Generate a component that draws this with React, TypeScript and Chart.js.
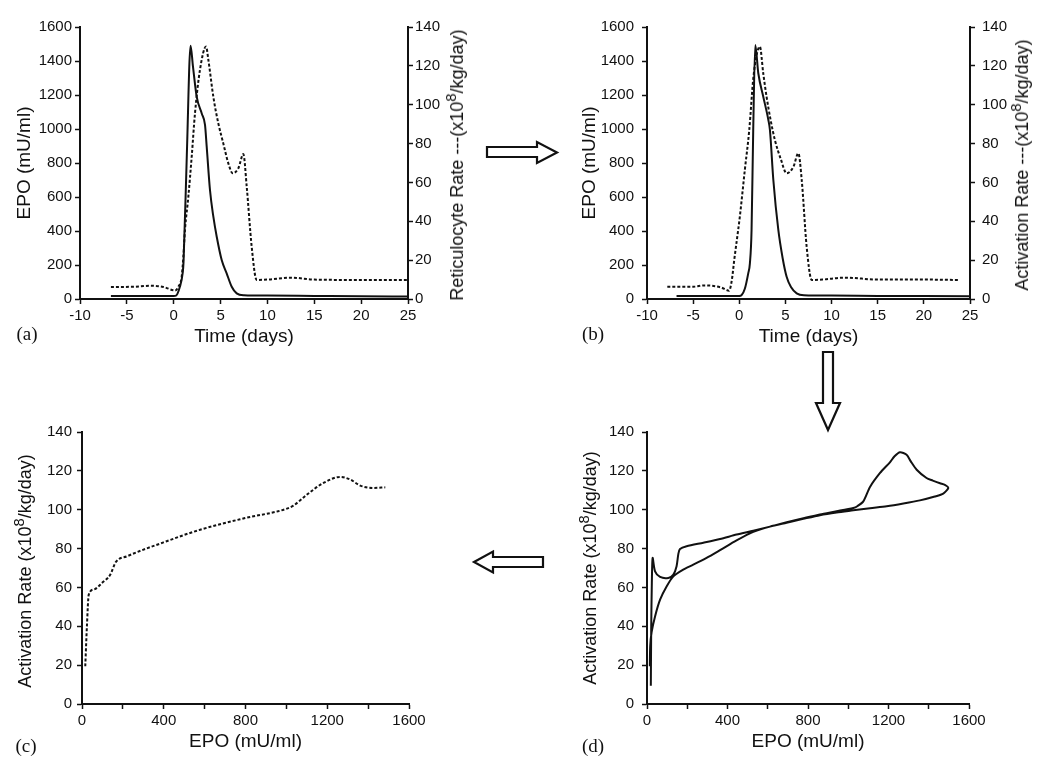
import React, { useEffect, useRef } from 'react';
import { Chart, registerables } from 'chart.js';

Chart.register(...registerables);

const FONT = '"Liberation Sans", Arial, Helvetica, sans-serif';
const SERIF = '"Liberation Serif", "Times New Roman", serif';
const INK = '#111';

// ---------------- data ----------------
// (a) EPO (mU/ml) vs time (days)
const timeEpoA = [-6.7, -3, 0, 0.25, 0.65, 0.95, 1.05, 1.4, 1.8, 2.05, 2.45, 3.0, 3.34, 3.52, 3.87, 4.23, 4.59, 5.12, 5.65, 6.19, 6.72, 7.5, 10, 15, 20, 25];
const epoA = [18, 18, 18, 20, 70, 150, 220, 850, 1490, 1370, 1190, 1090, 1024, 896, 641, 484, 366, 229, 151, 72, 33, 22, 20, 18, 16, 15];
// (a) reticulocyte rate (x10^8/kg/day) vs time
const timeRetA = [-6.7, -4.3, -2.5, -1.1, 0.15, 0.5, 0.85, 1.03, 1.2, 1.56, 1.92, 2.27, 2.8, 3.45, 3.7, 4.23, 4.76, 5.29, 5.83, 6.29, 6.9, 7.43, 7.79, 8.32, 8.85, 10, 12.5, 15, 20, 25];
const retA = [6.2, 6.3, 6.8, 6.2, 4.4, 6.3, 11.5, 21.8, 35.5, 52.6, 73.3, 95.6, 117.9, 129.9, 123, 104, 90.4, 80.1, 69.8, 64.7, 67.3, 74.6, 57.8, 26.9, 9.8, 10, 11, 10, 9.8, 9.8];

// (b) EPO vs time
const timeEpoB = [-6.8, -3, 0, 0.24, 0.6, 0.97, 1.15, 1.33, 1.51, 1.73, 2.06, 2.6, 3.15, 3.32, 3.69, 4.23, 4.7, 5.13, 5.6, 6.22, 7, 10, 15, 20, 25];
const epoB = [18, 18, 18, 22, 60, 151, 210, 406, 994, 1494, 1328, 1190, 1053, 994, 700, 406, 240, 131, 70, 33, 22, 20, 18, 17, 16];
// (b) activation rate vs time
const timeActB = [-7.8, -5, -3.8, -2, -1.1, -0.8, -0.55, 0.06, 0.6, 1.08, 1.5, 1.85, 2.23, 2.6, 2.96, 3.4, 3.86, 4.5, 5.13, 5.86, 6.4, 6.77, 7.3, 7.85, 9, 11.5, 15, 20, 23.7];
const actB = [6.3, 6.3, 7.0, 6.0, 4.3, 10, 20, 42.4, 66.4, 87, 112.7, 125, 129.9, 116, 104, 92, 81.8, 72, 64.7, 68, 75, 61, 26.9, 9.8, 10, 11, 10, 10, 9.8];

// (c) activation rate vs EPO
const epoC = [16, 24, 33, 60, 100, 138, 165, 220, 399, 578, 798, 998, 1034, 1101, 1182, 1264, 1313, 1362, 1427, 1484];
const actC = [19.4, 40, 56.3, 59, 62.5, 66.5, 73, 76, 83.2, 89.7, 95.7, 100.4, 102.1, 107.8, 113.8, 116.9, 115.5, 112.4, 111.2, 111.5];

// (d) activation rate vs EPO (trajectory in time order)
const epoD = [14, 16, 23, 40, 65, 98, 131, 180, 230, 296, 363, 445, 528, 611, 694, 777, 859, 942, 1025, 1108, 1191, 1274, 1356, 1430, 1472, 1497, 1480, 1456, 1420, 1389, 1340, 1310, 1290, 1257, 1230, 1207, 1158, 1108, 1075, 1045, 1025, 942, 859, 777, 694, 611, 528, 445, 363, 280, 197, 164, 156, 147, 131, 106, 65, 40, 28, 24, 21, 19];
const actD = [19.4, 30, 37, 45.1, 53.7, 60.6, 65.7, 69.2, 71.7, 75.2, 79.2, 84.2, 88.6, 91.3, 93.3, 95.3, 97.2, 98.6, 99.7, 100.8, 101.8, 103.2, 104.8, 106.8, 108.3, 111.2, 112.8, 113.6, 115, 116.3, 120.6, 125, 128.3, 129.6, 127.5, 124.4, 118.9, 111.7, 104.3, 101.8, 100.9, 99.2, 97.6, 95.6, 93.5, 91.3, 89.2, 87.2, 84.9, 83, 81.2, 79.8, 77.4, 70.9, 66.6, 64.9, 65.4, 68.3, 75.2, 62, 40, 9.4];

// tick values
const timeTicks = [-10, -5, 0, 5, 10, 15, 20, 25];
const epoLevelTicks = [0, 200, 400, 600, 800, 1000, 1200, 1400, 1600];
const rateTicks = [0, 20, 40, 60, 80, 100, 120, 140];
const epoConcTicks = [0, 200, 400, 600, 800, 1000, 1200, 1400, 1600];
const epoConcLabels = [0, 400, 800, 1200, 1600];

// ---------------- layout ----------------
type Geo = { cx: number; cy: number; cw: number; ch: number; l: number; r: number; t: number; b: number };
const GEO_A: Geo = { cx: 0, cy: 0, cw: 520, ch: 380, l: 80, r: 408, t: 27, b: 299 };
const GEO_B: Geo = { cx: 520, cy: 0, cw: 530, ch: 380, l: 647, r: 970, t: 27, b: 299 };
const GEO_C: Geo = { cx: 0, cy: 380, cw: 520, ch: 386, l: 82, r: 409, t: 432, b: 704 };
const GEO_D: Geo = { cx: 520, cy: 380, cw: 530, ch: 386, l: 647, r: 969, t: 432, b: 704 };

const TICK_FONT = { family: FONT, size: 15 };
const TITLE_SIZE = 19;
const TITLE_FONT = { family: FONT, size: TITLE_SIZE };
const TITLE_LH = TITLE_SIZE * 1.2;

const zip = (xs: number[], ys: number[]) => xs.map((x, i) => ({ x, y: ys[i] }));

function axis(o: {
  position: 'left' | 'right' | 'bottom';
  min: number;
  max: number;
  ticks: number[];
  labels?: number[];
  pad: number;
  size: number;
  title?: string;
  titleCenter?: number;
}) {
  const horizontal = o.position === 'bottom';
  return {
    type: 'linear',
    position: o.position,
    min: o.min,
    max: o.max,
    afterBuildTicks: (s: any) => {
      s.ticks = o.ticks.map((v) => ({ value: v }));
    },
    afterFit: (s: any) => {
      if (horizontal) s.height = o.size;
      else s.width = o.size;
    },
    ticks: {
      color: INK,
      font: TICK_FONT,
      padding: o.pad,
      autoSkip: false,
      maxRotation: 0,
      minRotation: 0,
      callback: (v: number) => (o.labels && !o.labels.includes(v) ? '' : String(v)),
    },
    grid: {
      display: true,
      drawOnChartArea: false,
      drawTicks: true,
      tickLength: 5,
      tickWidth: 1.5,
      tickColor: INK,
      color: INK,
    },
    border: { display: true, color: INK, width: 2 },
    title: o.title
      ? {
          display: true,
          text: o.title,
          color: INK,
          font: TITLE_FONT,
          padding: horizontal
            ? { top: 0, bottom: (o.titleCenter as number) - TITLE_LH / 2 }
            : { top: (o.titleCenter as number) - TITLE_LH / 2, bottom: 0 },
        }
      : { display: false },
  };
}

const solidStyle = {
  borderColor: INK,
  borderWidth: 2,
  pointRadius: 0,
  showLine: true,
  fill: false,
};
const dottedStyle = {
  borderColor: INK,
  borderWidth: 2,
  borderDash: [3, 2],
  pointRadius: 0,
  showLine: true,
  fill: false,
};

function timePanel(g: Geo, tE: number[], E: number[], tR: number[], R: number[], pads: { l: number; r: number }) {
  return {
    type: 'scatter',
    data: {
      datasets: [
        { data: zip(tE, E), yAxisID: 'y', ...solidStyle, cubicInterpolationMode: 'monotone' },
        { data: zip(tR, R), yAxisID: 'y1', ...dottedStyle, cubicInterpolationMode: 'monotone' },
      ],
    },
    options: {
      animation: false,
      responsive: false,
      maintainAspectRatio: false,
      events: [],
      layout: { padding: { top: g.t - g.cy, left: 0, right: 0, bottom: 0 } },
      plugins: { legend: { display: false }, tooltip: { enabled: false } },
      scales: {
        x: axis({ position: 'bottom', min: -10, max: 25, ticks: timeTicks, pad: 3, size: g.cy + g.ch - g.b, title: 'Time (days)', titleCenter: g.cy + g.ch - 337 }),
        y: axis({ position: 'left', min: 0, max: 1600, ticks: epoLevelTicks, pad: pads.l, size: g.l - g.cx, title: 'EPO (mU/ml)', titleCenter: (g === GEO_A ? 25 : 590) - g.cx }),
        y1: axis({ position: 'right', min: 0, max: 140, ticks: rateTicks, pad: pads.r, size: g.cx + g.cw - g.r }),
      },
    },
  };
}

function ratePanel(g: Geo, X: number[], Y: number[], dotted: boolean, padL: number) {
  const ds = dotted
    ? { data: zip(X, Y), ...dottedStyle, cubicInterpolationMode: 'monotone' }
    : { data: zip(X, Y), ...solidStyle, tension: 0.25 };
  return {
    type: 'scatter',
    data: { datasets: [ds] },
    options: {
      animation: false,
      responsive: false,
      maintainAspectRatio: false,
      events: [],
      layout: { padding: { top: g.t - g.cy, left: 0, right: g.cx + g.cw - g.r, bottom: 0 } },
      plugins: { legend: { display: false }, tooltip: { enabled: false } },
      scales: {
        x: axis({ position: 'bottom', min: 0, max: 1600, ticks: epoConcTicks, labels: epoConcLabels, pad: 3, size: g.cy + g.ch - g.b, title: 'EPO (mU/ml)', titleCenter: g.cy + g.ch - 741.7 }),
        y: axis({ position: 'left', min: 0, max: 140, ticks: rateTicks, pad: padL, size: g.l - g.cx }),
      },
    },
  };
}

function ChartBox({ geo, make }: { geo: Geo; make: () => any }) {
  const ref = useRef<HTMLCanvasElement>(null);
  useEffect(() => {
    const chart = new Chart(ref.current as HTMLCanvasElement, make());
    return () => chart.destroy();
  }, []);
  return (
    <canvas
      ref={ref}
      width={geo.cw}
      height={geo.ch}
      style={{ position: 'absolute', left: geo.cx, top: geo.cy, width: geo.cw, height: geo.ch }}
    />
  );
}

function RotTitle({ x, y, children }: { x: number; y: number; children: React.ReactNode }) {
  return (
    <div
      style={{
        position: 'absolute',
        left: x,
        top: y,
        transform: 'translate(-50%, -50%) rotate(-90deg)',
        whiteSpace: 'nowrap',
        fontFamily: FONT,
        fontSize: 18,
        lineHeight: 1,
        color: INK,
      }}
    >
      {children}
    </div>
  );
}

const Sup = () => (
  <sup style={{ fontSize: '0.82em', verticalAlign: '0.5em', lineHeight: 0 }}>8</sup>
);

function PanelLabel({ x, y, text }: { x: number; y: number; text: string }) {
  return (
    <div
      style={{
        position: 'absolute',
        left: x,
        top: y,
        transform: 'translate(-50%, -50%)',
        fontFamily: SERIF,
        fontSize: 19,
        lineHeight: 1,
        color: INK,
      }}
    >
      {text}
    </div>
  );
}

export default function App() {
  return (
    <div
      style={{
        position: 'fixed',
        left: 0,
        top: 0,
        width: 1050,
        height: 766,
        background: '#fff',
        overflow: 'hidden',
      }}
    >
      <ChartBox geo={GEO_A} make={() => timePanel(GEO_A, timeEpoA, epoA, timeRetA, retA, { l: 3, r: 2 })} />
      <ChartBox geo={GEO_B} make={() => timePanel(GEO_B, timeEpoB, epoB, timeActB, actB, { l: 8, r: 7 })} />
      <ChartBox geo={GEO_C} make={() => ratePanel(GEO_C, epoC, actC, true, 5)} />
      <ChartBox geo={GEO_D} make={() => ratePanel(GEO_D, epoD, actD, false, 8)} />

      <RotTitle x={457} y={165}>
        Reticulocyte Rate ---(x10<Sup />/kg/day)
      </RotTitle>
      <RotTitle x={1022} y={165}>
        Activation Rate ---(x10<Sup />/kg/day)
      </RotTitle>
      <RotTitle x={25} y={571}>
        Activation Rate (x10<Sup />/kg/day)
      </RotTitle>
      <RotTitle x={590} y={568}>
        Activation Rate (x10<Sup />/kg/day)
      </RotTitle>

      <PanelLabel x={27} y={333} text="(a)" />
      <PanelLabel x={593} y={333} text="(b)" />
      <PanelLabel x={26} y={745} text="(c)" />
      <PanelLabel x={593} y={745} text="(d)" />

      <svg width={1050} height={766} style={{ position: 'absolute', left: 0, top: 0, pointerEvents: 'none' }}>
        <polygon
          points="487,147 537,147 537,142 557,152.5 537,163 537,157 487,157"
          fill="#fff"
          stroke={INK}
          strokeWidth={2.2}
        />
        <polygon
          points="823,352 833,352 833,403 840,403 828,430 816,403 823,403"
          fill="#fff"
          stroke={INK}
          strokeWidth={2.2}
        />
        <polygon
          points="474,562 493,551.5 493,557 543,557 543,567 493,567 493,572.5"
          fill="#fff"
          stroke={INK}
          strokeWidth={2.2}
        />
      </svg>
    </div>
  );
}
